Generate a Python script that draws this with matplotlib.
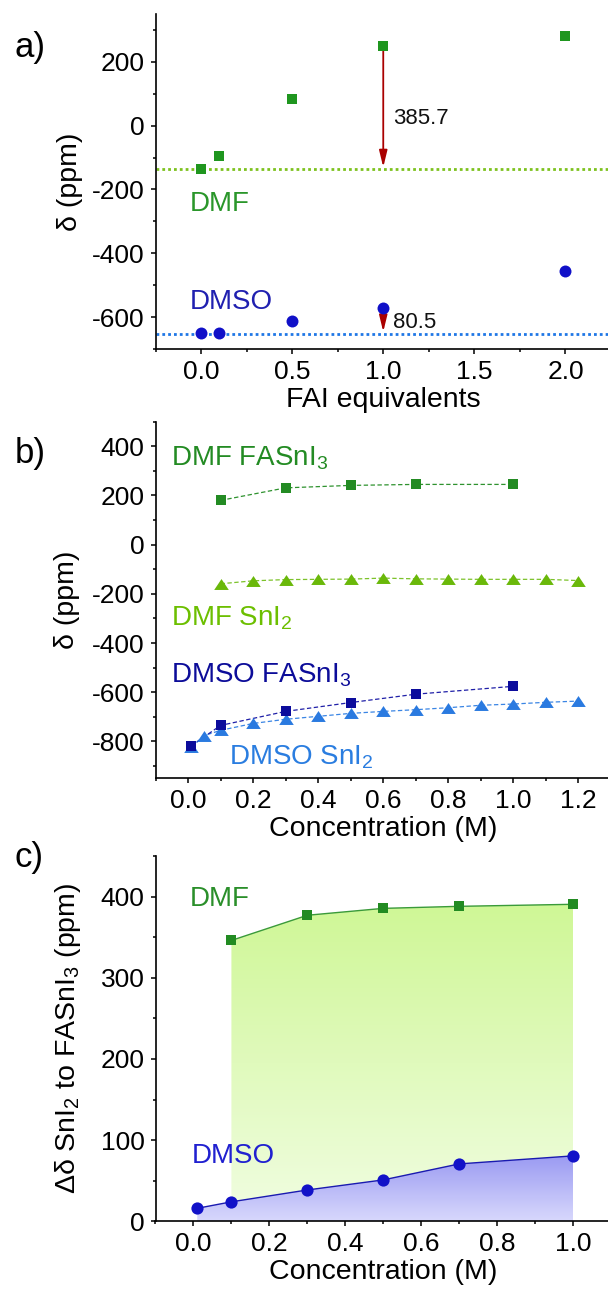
import numpy as np
import matplotlib
matplotlib.use("Agg")
import matplotlib.pyplot as plt
from matplotlib.colors import LinearSegmentedColormap
from matplotlib.ticker import MultipleLocator

plt.rcParams['font.family'] = ['Liberation Sans', 'DejaVu Sans']
plt.rcParams['mathtext.fontset'] = 'custom'
plt.rcParams['mathtext.rm'] = 'Liberation Sans'
plt.rcParams['mathtext.it'] = 'Liberation Sans:italic'
plt.rcParams['mathtext.bf'] = 'Liberation Sans:bold'
plt.rcParams['mathtext.default'] = 'regular'
plt.rcParams['axes.unicode_minus'] = False

# ---------------- data ----------------
# panel a
fai_eq = [0.0, 0.1, 0.5, 1.0, 2.0]
dmf_fai = [-137, -94, 83, 249, 281]
dmso_fai = [-651, -651, -612, -572, -456]
dmf_ref = -136
dmso_ref = -652
dmf_shift_label = "385.7"
dmso_shift_label = "80.5"

# panel b
conc_dmf_fa = [0.1, 0.3, 0.5, 0.7, 1.0]
dmf_fasni3 = [180, 231, 241, 245, 245]
conc_dmf_sn = [0.1, 0.2, 0.3, 0.4, 0.5, 0.6, 0.7, 0.8, 0.9, 1.0, 1.1, 1.2]
dmf_sni2 = [-159, -147, -142, -141, -140, -136, -139, -140, -141, -141, -141, -146]
conc_dmso_fa = [0.01, 0.1, 0.3, 0.5, 0.7, 1.0]
dmso_fasni3 = [-818, -735, -678, -642, -608, -576]
conc_dmso_sn = [0.01, 0.05, 0.1, 0.2, 0.3, 0.4, 0.5, 0.6, 0.7, 0.8, 0.9, 1.0, 1.1, 1.2]
dmso_sni2 = [-823, -776, -755, -727, -710, -698, -686, -678, -671, -663, -653, -648, -641, -636]

# panel c
conc_c_dmf = [0.1, 0.3, 0.5, 0.7, 1.0]
delta_dmf = [346, 377, 385.5, 388, 390.5]
conc_c_dmso = [0.01, 0.1, 0.3, 0.5, 0.7, 1.0]
delta_dmso = [16, 24, 38.6, 51, 70.7, 80.6]

# ---------------- style ----------------
TICK_FS = 19
LAB_FS = 20.5
TXT_FS = 20
W, H = 608, 1295
fig = plt.figure(figsize=(W / 100, H / 100), dpi=100)

left = 155.5 / W
width = 455.5 / W


def make_ax(top_px, bot_px):
    return fig.add_axes([left, 1 - bot_px / H, width, (bot_px - top_px) / H])


def style_ax(ax, xmaj, xmin, ymaj, ymin):
    for s in ['top', 'right']:
        ax.spines[s].set_visible(False)
    for s in ['left', 'bottom']:
        ax.spines[s].set_linewidth(1.2)
    ax.xaxis.set_major_locator(MultipleLocator(xmaj))
    ax.xaxis.set_minor_locator(MultipleLocator(xmin))
    ax.yaxis.set_major_locator(MultipleLocator(ymaj))
    ax.yaxis.set_minor_locator(MultipleLocator(ymin))
    ax.tick_params(which='major', direction='out', length=3.8, width=1.1,
                   labelsize=TICK_FS, pad=4)
    ax.tick_params(which='minor', direction='out', length=2.0, width=1.1)


tri = [(-1, -0.75), (1, -0.75), (0, 0.75)]
arrow_props = dict(arrowstyle='-|>,head_length=0.9,head_width=0.22',
                   color='#aa0000', lw=1.3, shrinkA=0, shrinkB=0,
                   mutation_scale=11)

# ---------------- panel a ----------------
axa = make_ax(14, 349)
axa.set_xlim(-0.25, 2.25)
axa.set_ylim(-700, 350)
style_ax(axa, 0.5, 0.25, 200, 100)
axa.axhline(dmf_ref, color='#7dc21e', lw=2.0, dashes=(1.0, 1.1), zorder=1)
axa.axhline(dmso_ref, color='#1f77e6', lw=2.0, dashes=(1.0, 1.1), zorder=1)
axa.plot(fai_eq, dmf_fai, 's', color='#1f961f', ms=7.8, mew=0, zorder=3)
axa.plot(fai_eq, dmso_fai, 'o', color='#1010c8', ms=8.6, mew=0, zorder=3)
axa.annotate('', xy=(1.0, dmf_ref + 6), xytext=(1.0, dmf_fai[3] - 14),
             arrowprops=arrow_props, zorder=2)
axa.annotate('', xy=(1.0, dmso_ref + 6), xytext=(1.0, dmso_fai[3] - 14),
             arrowprops=arrow_props, zorder=2)
axa.text(1.053, 4, dmf_shift_label, fontsize=16, va='baseline', ha='left', color='#111111')
axa.text(1.053, -634, dmso_shift_label, fontsize=16, va='baseline', ha='left', color='#111111')
axa.text(-0.06, -267, 'DMF', fontsize=TXT_FS, color='#2a962a', va='baseline')
axa.text(-0.06, -575, 'DMSO', fontsize=TXT_FS, color='#2020b0', va='baseline')
axa.set_xlabel('FAI equivalents', fontsize=LAB_FS, labelpad=2)
axa.set_ylabel('δ (ppm)', fontsize=LAB_FS)
axa.yaxis.set_label_coords((83 - 155.5) / 455.5, 0.5)

# ---------------- panel b ----------------
axb = make_ax(421.7, 778.3)
axb.set_xlim(-0.1, 1.3)
axb.set_ylim(-950, 500)
style_ax(axb, 0.2, 0.1, 200, 100)
dash = (3.5, 2.0)
axb.plot(conc_dmf_fa, dmf_fasni3, color='#2e922e', lw=0.9, dashes=dash, zorder=2)
axb.plot(conc_dmf_fa, dmf_fasni3, 's', color='#238b23', ms=7.2, mew=0, zorder=3)
axb.plot(conc_dmf_sn, dmf_sni2, color='#7cc22a', lw=0.9, dashes=dash, zorder=2)
axb.plot(conc_dmf_sn, dmf_sni2, marker=tri, ls='none', color='#6ab80a', ms=10.5, mew=0, zorder=3)
axb.plot(conc_dmso_sn, dmso_sni2, color='#3a85e4', lw=0.9, dashes=dash, zorder=2)
axb.plot(conc_dmso_sn, dmso_sni2, marker=tri, ls='none', color='#2a7ae0', ms=10.5, mew=0, zorder=3)
axb.plot(conc_dmso_fa, dmso_fasni3, color='#2020a8', lw=0.9, dashes=dash, zorder=2)
axb.plot(conc_dmso_fa, dmso_fasni3, 's', color='#0c0c9c', ms=7.2, mew=0, zorder=4)
axb.text(-0.053, 320, 'DMF FASnI$_3$', fontsize=TXT_FS, color='#238b23', va='baseline')
axb.text(-0.053, -329, 'DMF SnI$_2$', fontsize=TXT_FS, color='#6cbf00', va='baseline')
axb.text(-0.053, -561, 'DMSO FASnI$_3$', fontsize=TXT_FS, color='#0c0c99', va='baseline')
axb.text(0.126, -894, 'DMSO SnI$_2$', fontsize=TXT_FS, color='#2a7de0', va='baseline')
axb.set_xlabel('Concentration (M)', fontsize=LAB_FS, labelpad=2)
axb.set_ylabel('δ (ppm)', fontsize=LAB_FS)
axb.yaxis.set_label_coords((80 - 155.5) / 455.5, 0.5)

# ---------------- panel c ----------------
axc = make_ax(856, 1221.3)
axc.set_xlim(-0.1, 1.1)
axc.set_ylim(0, 450)
style_ax(axc, 0.2, 0.1, 100, 50)


def gradient_fill(ax, x, y, c_top, c_bot, z):
    poly = ax.fill_between(x, y, 0, facecolor='none', edgecolor='none', zorder=z)
    cmap = LinearSegmentedColormap.from_list('g', [c_bot, c_top])
    grad = np.linspace(0, 1, 256).reshape(-1, 1)
    im = ax.imshow(grad, extent=[min(x), max(x), 0, max(y)], origin='lower',
                   aspect='auto', cmap=cmap, zorder=z, interpolation='bilinear')
    im.set_clip_path(poly.get_paths()[0], transform=ax.transData)


gradient_fill(axc, conc_c_dmf, delta_dmf, '#cff796', '#f1fde2', 1)
gradient_fill(axc, conc_c_dmso, delta_dmso, '#9a9af2', '#d8d8fc', 2)
axc.set_xlim(-0.1, 1.1)
axc.set_ylim(0, 450)
axc.plot(conc_c_dmf, delta_dmf, '-', color='#3a9a3a', lw=1.0, zorder=3)
axc.plot(conc_c_dmf, delta_dmf, 's', color='#228b22', ms=7.8, mew=0, zorder=4)
axc.plot(conc_c_dmso, delta_dmso, '-', color='#1a1ab0', lw=1.0, zorder=3)
axc.plot(conc_c_dmso, delta_dmso, 'o', color='#1212c8', ms=8.8, mew=0, zorder=4)
axc.text(-0.010, 388.7, 'DMF', fontsize=TXT_FS, color='#2a8f2a', va='baseline')
axc.text(-0.004, 71.4, 'DMSO', fontsize=TXT_FS, color='#2020d0', va='baseline')
axc.set_xlabel('Concentration (M)', fontsize=LAB_FS, labelpad=2)
axc.set_ylabel('Δδ SnI$_2$ to FASnI$_3$ (ppm)', fontsize=LAB_FS)
axc.yaxis.set_label_coords((83 - 155.5) / 455.5, 0.5)

# panel letters
fig.text(15 / W, 1 - 48 / H, 'a)', fontsize=25, va='center', ha='left')
fig.text(15 / W, 1 - 453 / H, 'b)', fontsize=25, va='center', ha='left')
fig.text(15 / W, 1 - 857 / H, 'c)', fontsize=25, va='center', ha='left')

fig.savefig('out.png', dpi=100)
